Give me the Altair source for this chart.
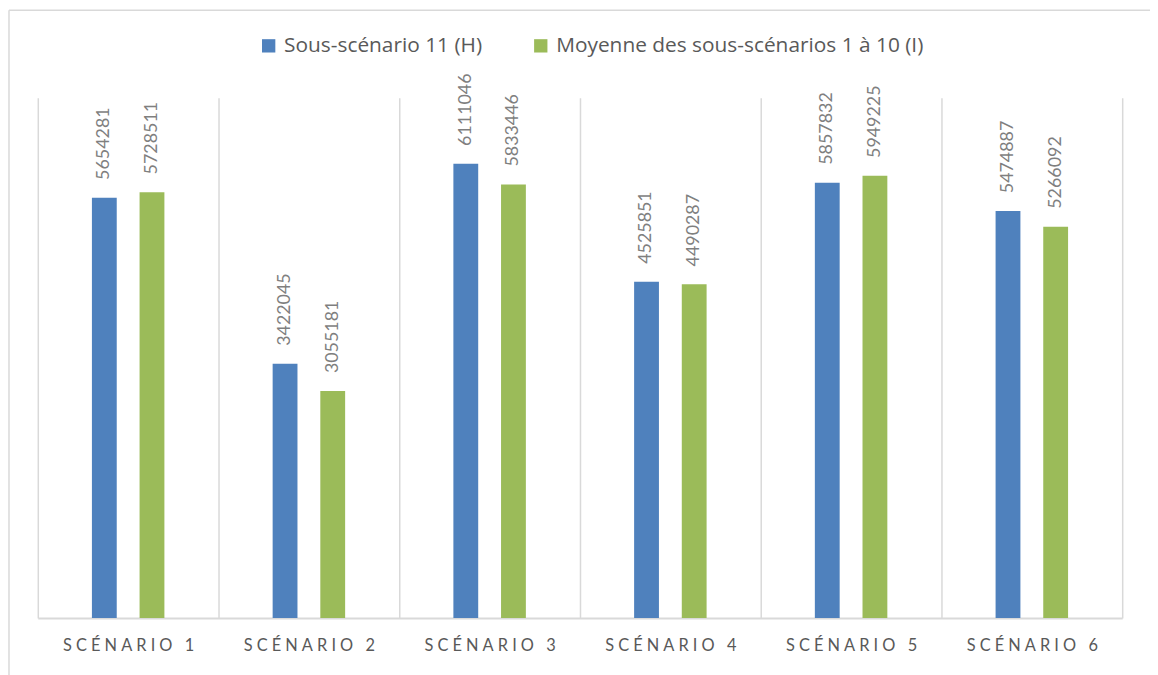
import altair as alt
import pandas as pd

scenarios = ["SCÉNARIO 1", "SCÉNARIO 2", "SCÉNARIO 3", "SCÉNARIO 4", "SCÉNARIO 5", "SCÉNARIO 6"]
series_names = ["Sous-scénario 11 (H)", "Moyenne des sous-scénarios 1 à 10 (I)"]
h_values = [5654281, 3422045, 6111046, 4525851, 5857832, 5474887]
i_values = [5728511, 3055181, 5833446, 4490287, 5949225, 5266092]
colors = ["#4f81bd", "#9bbb59"]

rows = []
for s, h, i in zip(scenarios, h_values, i_values):
    rows.append({"scenario": s, "series": series_names[0], "value": h})
    rows.append({"scenario": s, "series": series_names[1], "value": i})
df = pd.DataFrame(rows)

FONT = "Lato"
GRID = "#d9d9d9"

x_enc = alt.X(
    "scenario:N",
    sort=scenarios,
    scale=alt.Scale(paddingInner=0, paddingOuter=0),
    axis=alt.Axis(
        title=None,
        tickBand="extent",
        grid=True,
        gridColor=GRID,
        gridWidth=1.5,
        domainColor=GRID,
        domainWidth=2,
        ticks=False,
        labelAngle=0,
        labelFont=FONT,
        labelFontSize=16.5,
        labelColor="#595959",
        labelPadding=20,
        labelExpr="join(split(datum.label, ''), '\u2005')",
    ),
)
y_enc = alt.Y("value:Q", scale=alt.Scale(domain=[0, 7000000]), axis=None)
xo_enc = alt.XOffset(
    "series:N",
    sort=series_names,
    scale=alt.Scale(paddingInner=0.208, paddingOuter=1),
)

base = alt.Chart(df)

bars = base.mark_bar(width=25).encode(
    x=x_enc,
    xOffset=xo_enc,
    y=y_enc,
    color=alt.Color(
        "series:N",
        sort=series_names,
        scale=alt.Scale(domain=series_names, range=colors),
        legend=alt.Legend(
            title=None,
            orient="none",
            legendX=222,
            legendY=-63,
            direction="horizontal",
            symbolType="square",
            symbolSize=180,
            symbolStrokeWidth=0,
            labelFont="Open Sans",
            labelFontSize=21,
            labelColor="#595959",
            labelLimit=0,
            labelOffset=5,
            columnPadding=48,
            padding=0,
        ),
    ),
)

labels = base.mark_text(
    angle=270, align="left", baseline="middle", dx=18,
    font=FONT, fontSize=18, color="#7f7f7f",
).encode(
    x=x_enc,
    xOffset=xo_enc,
    y=y_enc,
    text=alt.Text("value:Q", format="d"),
)

frame_df = pd.DataFrame({"k": [0]})
frame_left = alt.Chart(frame_df).mark_rule(color=GRID, strokeWidth=1.5).encode(
    x=alt.value(-29), y=alt.value(-88), y2=alt.value(600)
)
frame_top = alt.Chart(frame_df).mark_rule(color=GRID, strokeWidth=1.5).encode(
    x=alt.value(-29), x2=alt.value(1130), y=alt.value(-88)
)

chart = alt.layer(frame_left, frame_top, bars, labels).properties(
    width=1092,
    height=524,
    autosize=alt.AutoSizeParams(type="none"),
    padding={"left": 30, "top": 88, "right": 28, "bottom": 63},
).configure_view(stroke=None)

chart.save("out.html", embed_options={"renderer": "svg", "actions": False})
